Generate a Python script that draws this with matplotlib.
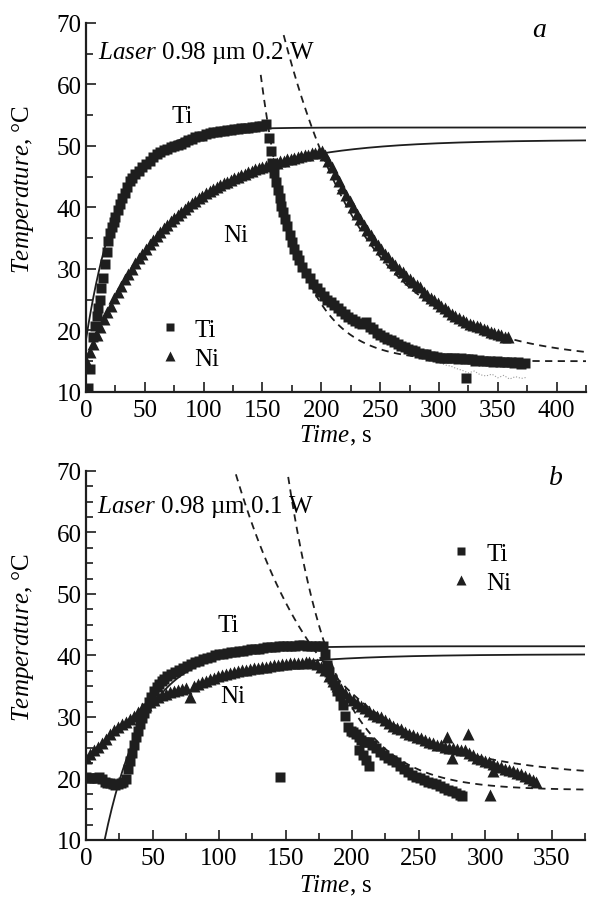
import numpy as np
import matplotlib
matplotlib.use("Agg")
import matplotlib.pyplot as plt
from matplotlib.ticker import MultipleLocator

plt.rcParams['font.family'] = ['Liberation Serif', 'DejaVu Serif']
plt.rcParams['mathtext.fontset'] = 'custom'
plt.rcParams['mathtext.rm'] = 'Liberation Serif'
plt.rcParams['mathtext.it'] = 'Liberation Serif:italic'

INK = '#1e1e1e'

# ---------------- panel a: 0.2 W ----------------
ti_a_t = [1.5, 3.5, 6, 7.5, 9, 10.5, 11.5, 13, 14.5, 16, 17.5, 19, 20.5, 22, 23.5, 25, 27, 29, 31, 33,
          35, 37, 39, 42, 45, 48, 51, 54, 57, 60, 63, 66, 69, 72, 75, 78, 81, 84, 87, 90,
          93, 96, 99, 102, 105, 108, 111, 114, 117, 120, 123, 126, 129, 132, 135, 138, 141, 144, 147, 150,
          153, 155.5, 157, 158.5, 160, 161.5, 163, 164.5, 166, 167.5, 169, 171, 173, 175, 177, 179, 181, 184, 187, 190,
          193, 196, 199, 202, 205, 208, 211, 214, 217, 220, 223, 226, 229, 232, 235, 238, 241, 244, 247, 250,
          253, 256, 259, 262, 265, 268, 271, 274, 277, 280, 283, 286, 289, 292, 295, 298, 301, 304, 307, 310,
          313, 316, 319, 322, 325, 328, 331, 334, 337, 340, 343, 346, 349, 352, 355, 358, 361, 364, 367, 370,
          373, 323]
ti_a_T = [10.6, 13.8, 19.0, 20.8, 22.3, 23.6, 25.0, 26.9, 28.5, 30.8, 32.8, 34.5, 35.8, 36.8, 37.6, 38.5, 39.6, 40.6, 41.5, 42.4,
          43.4, 44.3, 44.8, 45.4, 46.0, 46.6, 47.1, 47.6, 48.2, 48.7, 49.0, 49.3, 49.5, 49.8, 50.0, 50.2, 50.4, 50.7, 50.9, 51.2,
          51.4, 51.6, 51.7, 51.9, 52.1, 52.2, 52.3, 52.4, 52.5, 52.6, 52.6, 52.7, 52.8, 52.9, 52.9, 53.0, 53.1, 53.1, 53.2, 53.3,
          53.5, 51.3, 49.2, 47.3, 45.6, 44.1, 42.8, 41.6, 40.3, 39.3, 38.2, 37.0, 35.6, 34.4, 33.3, 32.3, 31.4, 30.3, 29.3, 28.5,
          27.6, 26.9, 26.2, 25.6, 25.0, 24.6, 24.1, 23.6, 23.1, 22.7, 22.2, 21.8, 21.5, 21.2, 21.0, 21.3, 20.6, 20.2, 19.6, 19.2,
          18.9, 18.6, 18.4, 18.1, 17.8, 17.5, 17.3, 17.0, 16.8, 16.6, 16.4, 16.2, 16.1, 15.9, 15.8, 15.7, 15.6, 15.6, 15.5, 15.6,
          15.5, 15.4, 15.5, 15.3, 15.4, 15.3, 15.1, 15.2, 15.1, 15.0, 15.1, 14.9, 15.0, 14.9, 14.8, 14.9, 14.8, 14.7, 14.8, 14.6,
          14.7, 12.2]

ni_a_t = [0, 3, 6, 9, 12, 15, 18, 21, 24, 27, 30, 33, 36, 39, 42, 45, 48, 51, 54, 57,
          60, 63, 66, 69, 72, 75, 78, 81, 84, 87, 90, 93, 96, 99, 102, 105, 108, 111, 114, 117,
          120, 123, 126, 129, 132, 135, 138, 141, 144, 147, 150, 153, 156, 159, 162, 165, 168, 171, 174, 177,
          180, 183, 186, 189, 192, 195, 198, 201, 203, 206, 209, 212, 215, 218, 221, 224, 227, 230, 233, 236,
          239, 242, 245, 248, 251, 254, 257, 260, 263, 266, 269, 272, 275, 278, 281, 284, 287, 290, 293, 296,
          299, 302, 305, 308, 311, 314, 317, 320, 323, 326, 329, 332, 335, 338, 341, 344, 347, 350, 353, 356,
          359]
ni_a_T = [15.1, 16.5, 17.8, 19.3, 20.5, 21.8, 23.0, 24.0, 25.3, 26.3, 27.2, 28.3, 29.2, 30.0, 30.9, 31.8, 32.5, 33.3, 34.0, 34.7,
          35.4, 36.0, 36.6, 37.2, 37.8, 38.3, 38.8, 39.3, 39.8, 40.3, 40.7, 41.1, 41.5, 41.9, 42.3, 42.6, 43.0, 43.3, 43.6, 43.9,
          44.2, 44.5, 44.8, 45.0, 45.3, 45.5, 45.7, 45.9, 46.2, 46.4, 46.6, 46.8, 47.0, 47.2, 47.3, 47.5, 47.6, 47.8, 47.9, 48.1,
          48.2, 48.3, 48.5, 48.6, 48.8, 48.9, 49.0, 49.2, 48.6, 47.6, 46.5, 45.4, 44.3, 43.2, 42.1, 41.0, 40.0, 39.0, 38.1, 37.2,
          36.3, 35.5, 34.7, 33.9, 33.2, 32.5, 31.9, 31.2, 30.6, 30.0, 29.5, 28.9, 28.4, 27.9, 27.4, 27.0, 26.3, 25.8, 25.3, 24.9,
          24.4, 24.0, 23.6, 23.1, 22.7, 22.4, 22.0, 21.7, 21.4, 21.1, 20.9, 20.7, 20.5, 20.2, 20.0, 19.8, 19.6, 19.4, 19.2, 19.0,
          18.9]

# thin raw trace under the Ti points near the end of run a
raw_a_t = [250, 260, 270, 280, 290, 295, 300, 305, 310, 315, 320, 325, 330, 335, 340, 345, 350, 355, 360, 365, 370, 375]
raw_a_T = [18.6, 18.0, 17.2, 16.5, 15.8, 15.3, 14.9, 14.4, 14.2, 13.8, 13.5, 13.1, 13.4, 12.8, 12.6, 12.9, 12.3, 12.7, 12.1, 12.5, 12.2, 12.4]

# fit parameters a: heating (Tinf, A, tau, t_from); cooling (Tinf, A, tau, t0, t_from)
heat_a = {'Ti': (53.0, 34.5, 28.0, 0.0), 'Ni': (51.0, 36.0, 72.0, 0.0)}
cool_a = {'Ti': (15.0, 38.0, 32.0, 155.0, 148.5), 'Ni': (15.0, 34.0, 72.0, 200.0, 168.0)}

# ---------------- panel b: 0.1 W ----------------
ti_b_t = [0, 2, 4, 6, 8, 10, 12, 14, 16, 18, 20, 22, 24, 26, 28, 30, 31.5, 33, 34.5, 36,
          37.5, 39, 40.5, 42, 43.5, 45, 47, 49, 51, 53, 55, 57, 59, 61, 64, 67, 70, 73, 76, 79,
          82, 85, 88, 91, 94, 97, 100, 103, 106, 109, 112, 115, 118, 121, 124, 127, 130, 133, 136, 139,
          142, 145, 148, 151, 154, 157, 160, 163, 166, 169, 172, 175, 178, 180, 181, 183, 185, 187, 189, 191,
          193, 195, 197, 199, 201, 203, 205, 207, 209, 211, 213, 215, 218, 221, 224, 227, 230, 233, 236, 239,
          242, 245, 248, 251, 254, 257, 260, 263, 266, 269, 272, 275, 278, 281, 283,
          146, 205.5, 208, 210.5, 212.5]
ti_b_T = [20.2, 20.1, 20.0, 20.0, 20.1, 20.2, 19.9, 19.5, 19.3, 19.2, 19.1, 19.0, 19.1, 19.2, 19.5, 19.9, 21.5, 22.8, 24.2, 25.5,
          26.8, 27.8, 28.8, 29.8, 30.7, 31.5, 32.5, 33.3, 34.2, 34.8, 35.4, 35.8, 36.2, 36.6, 37.0, 37.3, 37.6, 37.9, 38.3, 38.6,
          38.9, 39.1, 39.4, 39.6, 39.8, 40.0, 40.2, 40.3, 40.4, 40.5, 40.6, 40.7, 40.8, 40.9, 41.0, 41.0, 41.1, 41.2, 41.3, 41.4,
          41.4, 41.5, 41.5, 41.5, 41.6, 41.6, 41.7, 41.7, 41.6, 41.6, 41.6, 41.6, 41.6, 40.2, 38.5, 37.3, 36.2, 35.2, 34.3, 33.4,
          32.0, 30.2, 28.4, 27.8, 27.5, 27.2, 26.7, 26.3, 25.9, 25.9, 25.9, 25.5, 24.9, 24.3, 23.9, 23.4, 23.0, 22.6, 22.1, 21.6,
          21.0, 20.6, 20.2, 20.0, 19.8, 19.5, 19.3, 19.1, 18.8, 18.5, 18.2, 17.9, 17.6, 17.3, 17.1,
          20.3, 24.6, 23.9, 23.0, 22.0]

ni_b_t = [0, 3, 6, 9, 12, 15, 18, 21, 24, 27, 30, 33, 36, 39, 42, 45, 48, 51, 54, 57,
          60, 63, 66, 69, 72, 75, 78, 81, 84, 87, 90, 93, 96, 99, 102, 105, 108, 111, 114, 117,
          120, 123, 126, 129, 132, 135, 138, 141, 144, 147, 150, 153, 156, 159, 162, 165, 168, 171, 174, 177,
          180, 183, 186, 189, 192, 195, 198, 201, 204, 207, 210, 213, 216, 219, 222, 225, 228, 231, 234, 237,
          240, 243, 246, 249, 252, 255, 258, 261, 264, 267, 270, 273, 276, 279, 282, 285, 288, 291, 294, 297,
          300, 303, 306, 309, 312, 315, 318, 321, 324, 327, 330, 333, 336, 338,
          271, 287, 275, 304, 306]
ni_b_T = [23.4, 24.0, 24.6, 25.1, 25.7, 26.5, 27.3, 27.9, 28.4, 28.8, 29.2, 29.6, 30.2, 30.8, 31.4, 31.9, 32.4, 32.8, 33.2, 33.5,
          33.8, 34.0, 34.2, 34.4, 34.6, 34.7, 33.3, 35.0, 35.4, 35.7, 35.9, 36.1, 36.4, 36.6, 36.8, 37.0, 37.2, 37.3, 37.5, 37.6,
          37.7, 37.8, 37.9, 38.0, 38.1, 38.2, 38.3, 38.4, 38.5, 38.6, 38.6, 38.7, 38.7, 38.8, 38.8, 38.9, 38.9, 38.8, 38.6, 38.2,
          37.6, 36.6, 35.8, 35.1, 34.6, 33.9, 33.2, 32.7, 32.3, 31.8, 31.4, 30.9, 30.5, 30.2, 30.0, 29.5, 29.0, 28.5, 28.2, 28.0,
          27.6, 27.3, 27.0, 26.8, 26.6, 26.3, 26.0, 25.7, 25.5, 25.4, 25.2, 25.0, 24.9, 24.8, 24.7, 24.6, 24.2, 23.8, 23.4, 23.1,
          22.9, 22.6, 22.3, 22.1, 21.8, 21.6, 21.4, 21.2, 20.9, 20.7, 20.4, 20.1, 19.8, 19.4,
          26.8, 27.3, 23.3, 17.3, 21.2]

heat_b = {'Ti': (41.5, 49.9, 30.4, 13.9), 'Ni': (40.2, 16.2, 62.0, 170.0)}
cool_b = {'Ti': (18.1, 23.4, 36.0, 180.0, 152.0), 'Ni': (20.2, 18.3, 68.0, 180.0, 110.0)}

FS = 18


def style_axes(ax, xmax, ymin_step):
    ax.set_xlim(0, xmax)
    ax.set_ylim(10, 70)
    for s in ('top', 'right'):
        ax.spines[s].set_visible(False)
    for s in ('left', 'bottom'):
        ax.spines[s].set_linewidth(1.6)
        ax.spines[s].set_color(INK)
    ax.xaxis.set_major_locator(MultipleLocator(50))
    ax.xaxis.set_minor_locator(MultipleLocator(25))
    ax.yaxis.set_major_locator(MultipleLocator(10))
    ax.yaxis.set_minor_locator(MultipleLocator(ymin_step))
    ax.tick_params(which='both', direction='in', width=1.2, color=INK, labelsize=FS)
    ax.tick_params(which='major', length=7)
    ax.tick_params(which='minor', length=5)
    ax.tick_params(axis='x', pad=5)
    ax.tick_params(axis='y', pad=3)
    ax.set_xlabel(r'$\mathit{Time}$, s', fontsize=FS)
    ax.set_ylabel(r'$\mathit{Temperature}$, °C', fontsize=FS)
    ax.yaxis.set_label_coords(-0.1, 0.55)


def draw_panel(ax, ti_t, ti_T, ni_t, ni_T, heat, cool, xmax):
    for name in ('Ti', 'Ni'):
        tinf, a, tau, t_start = heat[name]
        th = np.linspace(t_start, xmax, 400)
        ax.plot(th, tinf - a * np.exp(-th / tau), '-', color=INK, lw=1.3, zorder=2)
        tinf, a, tau, t0, t_start = cool[name]
        tc = np.linspace(t_start, xmax, 400)
        ax.plot(tc, tinf + a * np.exp(-(tc - t0) / tau), color=INK, lw=1.3,
                dashes=(4, 3), zorder=2)
    h_ti, = ax.plot(ti_t, ti_T, 's', ms=7, color=INK, mec='none', zorder=3, label='Ti')
    h_ni, = ax.plot(ni_t, ni_T, '^', ms=8.2, color=INK, mec='none', zorder=3, label='Ni')
    return h_ti, h_ni


fig = plt.figure(figsize=(5.89, 9.04), dpi=100)
ax1 = fig.add_axes([0.146, 0.5653, 0.849, 0.4082])
ax2 = fig.add_axes([0.146, 0.0697, 0.847, 0.4082])

# panel a
ax1.plot(raw_a_t, raw_a_T, ':', color='#9a9a9a', lw=0.8, zorder=1)
h1, h2 = draw_panel(ax1, ti_a_t, ti_a_T, ni_a_t, ni_a_T, heat_a, cool_a, 425)
style_axes(ax1, 425, 5)
ax1.xaxis.set_label_coords(0.5, -0.085)
ax1.text(10, 65.2, r'$\mathit{Laser}$ 0.98 µm 0.2 W', fontsize=FS, va='center', ha='left')
ax1.text(385, 69, 'a', fontsize=20, style='italic', va='center', ha='center')
ax1.text(82, 54.8, 'Ti', fontsize=FS, va='center', ha='center')
ax1.text(127, 35.6, 'Ni', fontsize=FS, va='center', ha='center')
ax1.legend(handles=[h1, h2], loc='center left', bbox_to_anchor=(0.142, 0.13), frameon=False,
           fontsize=FS, handlelength=1.0, handletextpad=0.5, labelspacing=0.25, borderpad=0,
           borderaxespad=0, numpoints=1, markerscale=0.85)

# panel b
h1, h2 = draw_panel(ax2, ti_b_t, ti_b_T, ni_b_t, ni_b_T, heat_b, cool_b, 375)
style_axes(ax2, 375, 2.5)
ax2.xaxis.set_label_coords(0.5, -0.09)
ax2.text(8, 64.3, r'$\mathit{Laser}$ 0.98 µm 0.1 W', fontsize=FS, va='center', ha='left')
ax2.text(353, 69, 'b', fontsize=20, style='italic', va='center', ha='center')
ax2.text(107, 45, 'Ti', fontsize=FS, va='center', ha='center')
ax2.text(110, 33.4, 'Ni', fontsize=FS, va='center', ha='center')
ax2.legend(handles=[h1, h2], loc='center left', bbox_to_anchor=(0.727, 0.737), frameon=False,
           fontsize=FS, handlelength=1.0, handletextpad=0.5, labelspacing=0.25, borderpad=0,
           borderaxespad=0, numpoints=1, markerscale=0.85)

fig.savefig('out.png', dpi=100)
